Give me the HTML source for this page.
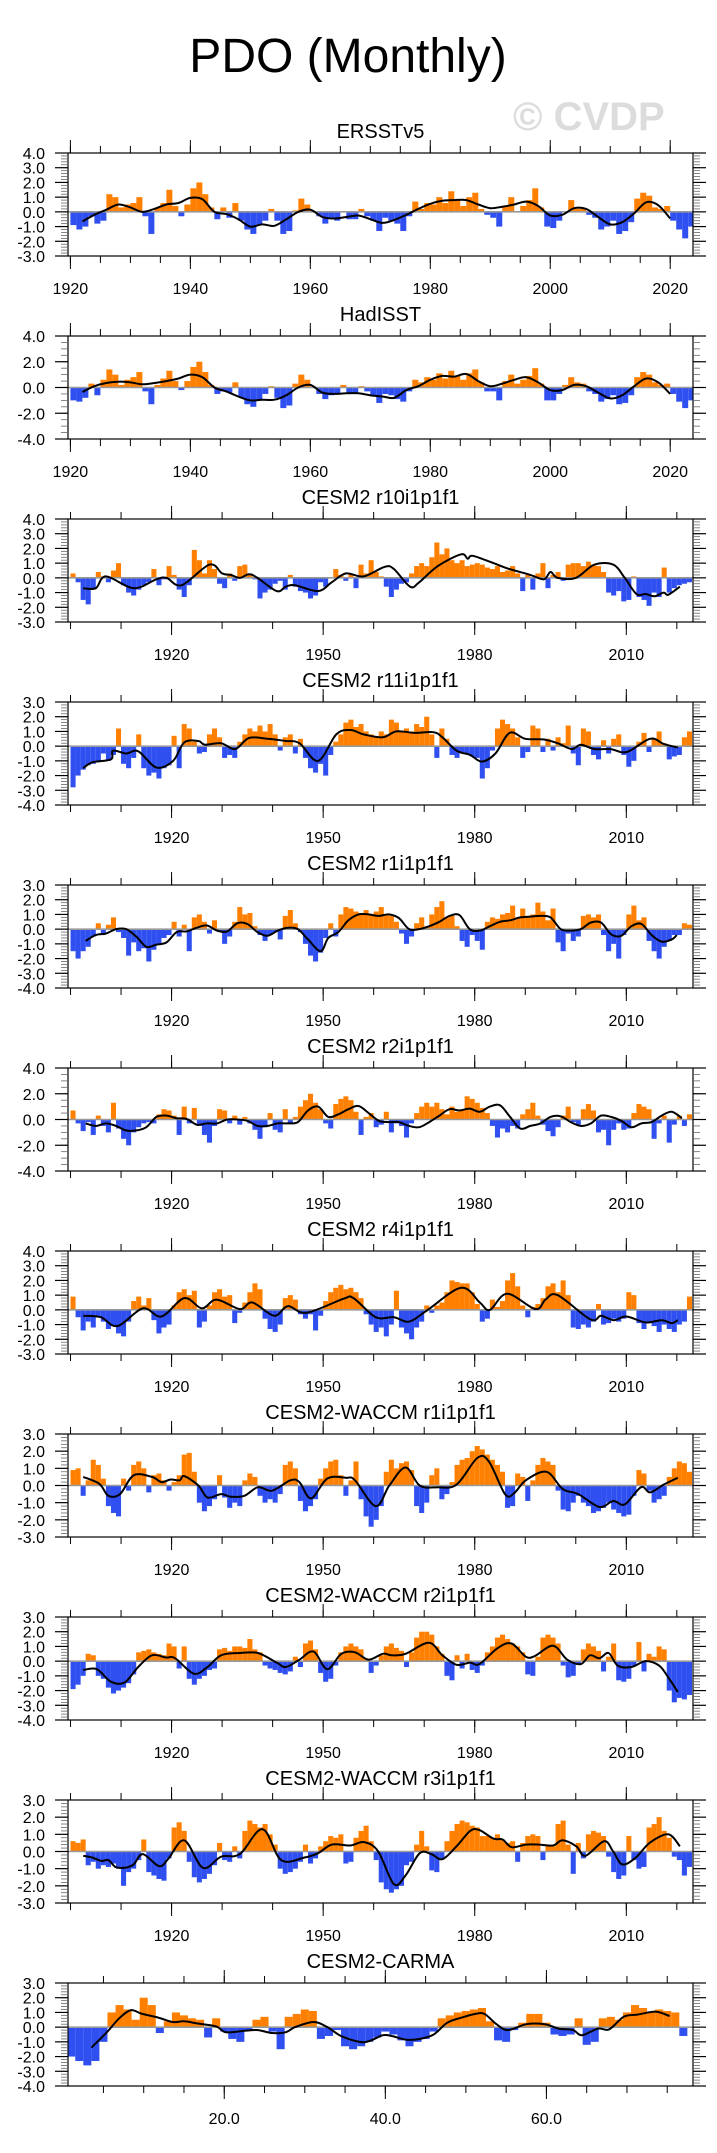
<!DOCTYPE html>
<html><head><meta charset="utf-8"><title>PDO (Monthly)</title>
<style>
html,body{margin:0;padding:0;background:#fff;}
svg{display:block;font-family:"Liberation Sans",Arial,sans-serif;}
</style></head>
<body>
<svg id="fig" width="717" height="2153" viewBox="0 0 717 2153" xmlns="http://www.w3.org/2000/svg">
<text x="348" y="72" font-size="48" text-anchor="middle" fill="#000">PDO (Monthly)</text>
<text x="513" y="130" font-size="40" font-weight="bold" fill="#dcdcdc">© CVDP</text>
</svg>
<script>
// ---------- data ----------
const ersstBars = [-0.9,-1.2,-1.0,-0.3,-0.8,-0.6,1.2,1.0,0.3,0.5, 0.6,1.0,-0.3,-1.5,0.3,0.6,1.5,0.4,-0.3,0.5, 1.6,2.0,1.2,0.3,-0.5,0.3,-0.4,0.6,-0.6,-1.2, -1.5,-0.9,-0.6,0.2,-0.6,-1.5,-1.3,0.1,0.9,0.5, 0.0,-0.3,-0.8,-0.5,-0.6,0.0,-0.5,-0.5,0.2,-0.3, -0.6,-1.3,-0.4,-0.6,-0.8,-1.3,-0.3,0.7,0.2,0.6, 0.5,1.0,0.6,1.4,0.8,0.4,1.0,1.3,0.2,-0.2, -0.4,-1.0,0.4,1.0,0.0,0.4,0.8,1.6,0.3,-1.0, -1.1,-0.6,0.0,0.8,0.2,0.2,-0.2,-0.4,-1.2,-1.0, -0.6,-1.5,-1.3,-0.7,0.9,1.3,1.1,0.3,0.2,0.4, -0.6,-1.2,-1.8,-1.0];
const obsSmoothX = [1922,1924,1926,1928,1930,1932,1934,1936,1938,1940,1942,1944,1946,1948,1950,1952,1954,1956,1958,1960,1962,1964,1966,1968,1970,1972,1974,1976,1978,1980,1982,1984,1986,1988,1990,1992,1994,1996,1998,2000,2002,2004,2006,2008,2010,2012,2014,2016,2018,2020];
const ersstSmoothY = [-0.65,-0.2,0.15,0.5,0.3,0.0,0.2,0.5,0.6,0.95,0.85,0.0,-0.15,-0.5,-1.0,-0.85,-0.95,-0.5,0.0,0.15,-0.35,-0.45,-0.35,-0.25,-0.5,-0.75,-0.55,-0.2,0.2,0.55,0.75,0.8,0.8,0.5,0.25,0.35,0.5,0.7,0.4,-0.25,-0.2,0.25,0.2,-0.35,-0.85,-0.7,-0.1,0.65,0.45,-0.45];

const hadBars = [-1.0,-1.1,-0.8,0.3,-0.6,0.6,1.4,1.0,0.2,0.6, 0.8,1.2,-0.3,-1.3,0.2,0.7,1.3,0.5,-0.2,0.5, 1.6,2.0,1.2,0.2,-0.5,-0.3,-0.4,0.4,-0.8,-1.3, -1.5,-1.0,-0.5,0.1,-0.8,-1.6,-1.4,0.3,1.0,0.6, 0.0,-0.5,-0.9,-0.6,-0.5,0.2,-0.4,-0.5,0.1,-0.3, -0.7,-1.2,-0.5,-0.6,-0.9,-1.1,-0.3,0.6,0.4,0.8, 0.6,1.1,0.7,1.3,0.9,0.6,1.1,1.4,0.4,-0.3, -0.3,-1.0,0.5,1.0,0.3,0.6,0.9,1.5,0.3,-1.0, -1.0,-0.5,0.2,0.8,0.4,0.3,-0.3,-0.5,-1.1,-0.9, -0.6,-1.3,-1.2,-0.6,0.8,1.2,1.0,0.4,0.2,0.3, -0.5,-1.1,-1.6,-1.0];
const hadSmoothY = [-0.35,0.1,0.35,0.45,0.4,0.25,0.35,0.5,0.7,1.0,0.8,0.0,-0.3,-0.7,-1.0,-0.95,-0.95,-0.6,0.0,0.2,-0.4,-0.5,-0.45,-0.45,-0.6,-0.7,-0.8,-0.2,0.1,0.6,0.9,0.85,1.05,0.5,0.1,0.3,0.6,0.8,0.4,-0.2,-0.2,0.2,0.1,-0.4,-0.85,-0.6,0.1,0.7,0.4,-0.5];

const r10Bars = [0.3,-0.3,-1.5,-1.8,-0.7,0.4,0.1,-0.3,0.5,1.0, -0.5,-1.0,-1.2,-0.8,-0.5,-0.3,0.6,-0.5,-0.1,0.8, 0.2,-0.8,-1.3,-0.5,1.9,1.2,0.3,1.2,0.6,-0.4, -0.7,0.3,-0.2,0.8,0.9,0.3,-0.1,-1.4,-1.0,-0.8, -0.4,-0.2,-0.8,0.2,-0.6,-0.9,-1.0,-1.4,-1.2,-0.3, -0.6,0.0,0.6,0.2,-0.2,0.3,-0.7,0.9,0.3,1.2, 0.4,0.1,-0.6,-1.3,-0.8,-0.4,-0.3,0.3,0.8,1.0, 0.8,1.4,2.4,1.6,2.0,1.2,1.0,1.2,0.8,0.9, 1.0,0.9,0.7,0.6,0.8,0.4,0.5,0.8,0.3,-0.9, 0.2,-0.8,0.3,1.0,-0.7,0.2,0.4,-0.2,0.9,1.0, 1.0,0.8,1.1,0.9,0.8,0.4,-1.0,-1.2,-0.9,-1.6, -1.5,0.1,-1.3,-1.5,-1.9,-1.0,-1.3,0.7,-1.0,-0.7, -0.5,-0.4,-0.3];
const r10SmoothX = [1902.5,1905,1907,1912.5,1917,1919,1922,1927.5,1930,1931.7,1933.5,1935.3,1937,1940.8,1942.6,1944.4,1949,1951.7,1954.5,1958,1962.2,1964,1967.2,1969,1972.7,1977.3,1978.6,1979.6,1983.7,1986.4,1991,1993.7,1995,1996.4,2000,2003.7,2007.4,2009.7,2012,2013.8,2015.6,2017.4,2018.3,2020.6];
const r10SmoothY = [-0.7,-0.7,0.1,-0.7,-0.1,0.0,-0.5,0.9,0.3,0.2,0.0,0.25,0.0,-0.9,-0.6,-0.5,-0.9,-0.3,0.3,0.1,0.75,0.6,-0.6,-0.3,0.8,1.6,1.3,1.5,1.0,0.65,0.2,-0.1,0.4,0.0,0.0,0.9,0.9,0.0,-1.1,-1.1,-1.25,-1.0,-1.15,-0.6];

const r11Bars = [-2.8,-2.0,-1.6,-1.3,-1.2,-1.0,-0.5,-1.0,-0.6,1.2, -1.2,-1.5,-0.8,0.8,-1.5,-2.0,-1.8,-2.2,-1.5,-1.3, 0.7,-1.5,1.5,1.2,0.3,-0.5,-0.4,0.8,1.2,0.6, -0.8,-0.6,-0.8,0.3,0.8,1.2,1.0,1.4,1.0,1.5, 0.8,-0.3,0.6,0.8,-0.5,0.5,-0.8,-1.5,-1.8,-1.2, -2.0,-0.6,0.3,0.8,1.6,1.8,1.3,1.5,1.0,0.8, 0.6,1.0,0.8,1.8,1.6,1.0,1.2,1.0,1.5,1.3, 2.0,0.8,-0.8,1.2,0.5,-0.6,-0.8,-0.4,-0.5,-0.7, -0.8,-2.2,-1.5,-0.3,1.2,1.8,1.5,1.2,0.6,-0.8, -0.4,1.4,1.2,-0.4,0.5,-0.3,0.6,0.2,1.4,-0.5, -1.3,1.2,1.0,-0.6,-0.9,0.4,-0.5,0.5,0.8,-0.6, -1.4,-1.0,0.3,0.9,-0.4,0.5,1.0,0.2,-0.9,-0.7, -0.6,0.6,1.0];
const r11SmoothX = [1902.5,1904.3,1908,1908.4,1911,1913.4,1917,1920.3,1922.5,1925.3,1926.6,1929.8,1932.6,1935.3,1939,1942.6,1945.3,1949,1952.6,1955.4,1958,1961.8,1964.5,1968.2,1971.8,1973.6,1976.4,1979.1,1981.4,1984.1,1986.9,1990,1993.7,1996.4,1999.2,2001,2003.7,2006.9,2010.1,2014.7,2017.4,2020.2];
const r11SmoothY = [-1.5,-1.1,-0.9,-0.3,-0.5,-0.35,-1.45,-1.0,0.25,0.35,0.1,0.2,-0.2,0.55,0.5,0.35,0.2,-1.0,0.8,1.1,0.8,0.6,1.0,0.9,0.95,0.6,-0.3,-0.6,-1.05,-0.5,0.9,0.5,0.45,0.2,-0.2,0.1,-0.2,-0.2,-0.4,0.5,0.15,-0.1];

const r1Bars = [-1.5,-2.0,-1.5,-1.2,-0.5,0.4,-0.3,0.3,0.8,-0.2, -0.6,-1.8,-0.9,-1.5,-1.3,-2.2,-1.4,-1.0,-0.6,-0.4, 0.5,-0.5,0.3,-1.5,0.8,1.0,0.5,-0.3,0.6,-0.2, -1.0,-0.5,0.5,1.5,1.0,1.1,0.2,-0.4,-0.8,-0.4, -0.2,-0.7,0.9,1.3,0.4,-0.2,-1.0,-1.8,-2.2,-1.6, -0.6,0.4,-0.5,1.0,1.5,1.4,1.2,1.1,1.3,1.0, 1.2,1.5,1.0,0.9,0.5,-0.3,-1.0,-0.5,0.4,0.8, 0.2,1.0,1.5,1.9,0.8,0.9,0.2,-0.8,-1.2,-0.4, -0.8,-1.4,0.5,0.8,0.7,1.0,1.1,1.6,0.8,1.4, 0.9,1.0,1.8,1.2,0.6,1.4,-0.9,-1.5,-0.3,-0.8, -0.5,0.9,1.0,0.8,1.0,-0.4,-1.5,-1.0,-2.0,-0.4, 1.0,1.6,0.6,0.8,-0.8,-1.5,-2.0,-1.2,-0.8,-0.4, -0.4,0.4,0.3];
const r1SmoothX = [1903,1905,1907,1909,1911,1913,1915,1917,1919,1921,1923,1925,1927,1929,1931,1933,1935,1937,1939,1941,1943,1945,1947,1949.5,1951,1953,1955,1957,1959,1961,1963,1965,1967,1969,1971,1973,1975,1977,1979,1981,1983,1985,1987,1989,1991,1993,1995,1997,1999,2001,2003,2005,2007,2009,2011,2013,2015,2017,2019,2020];
const r1SmoothY = [-0.8,-0.4,-0.3,0.0,0.0,-0.5,-1.2,-1.05,-0.9,-0.2,-0.15,0.1,0.25,-0.1,-0.15,0.4,0.35,-0.2,-0.45,-0.1,0.1,0.0,-0.7,-1.5,-0.6,-0.2,0.6,1.0,1.0,0.9,1.0,0.75,0.0,0.0,0.2,0.5,0.9,0.95,0.0,-0.1,0.2,0.5,0.6,0.8,0.85,0.9,0.8,0.0,-0.1,0.0,0.45,0.45,-0.35,-0.45,0.2,0.35,-0.4,-0.85,-0.7,-0.4];

const r2Bars = [0.7,-0.3,-0.9,-0.2,-1.2,0.3,-0.5,-1.0,1.3,-0.7, -1.5,-2.0,-1.0,-0.6,-0.3,-0.2,-0.3,0.4,0.8,0.7, 0.3,-1.2,1.0,-0.3,0.9,-0.5,-1.2,-1.8,-0.5,0.8, 0.7,-0.3,0.3,-0.4,0.2,-0.3,-0.8,-1.5,-0.6,0.5, -0.8,-1.0,0.8,-0.3,0.2,1.0,1.5,2.0,1.3,0.8, -0.3,-0.7,1.2,1.6,1.8,1.5,0.6,-1.2,0.2,0.5, -0.6,-0.4,0.6,-1.0,-0.3,-0.5,-1.4,-0.3,0.5,1.0, 1.3,1.0,1.3,0.8,0.4,1.0,0.6,0.8,1.8,1.6, 1.3,0.9,0.5,-0.5,-1.4,-0.7,-1.0,-0.5,-0.7,0.4, 0.8,1.3,0.3,-0.4,-0.9,-1.3,-0.6,0.3,1.0,-0.2, -0.4,0.8,1.2,0.7,-1.0,-0.8,-2.0,-0.8,-0.3,-0.8, -0.7,0.5,1.2,1.0,0.8,-1.5,-0.3,0.3,-1.8,-0.4, 0.3,-0.5,0.4];
const r2SmoothX = [1903,1905,1907,1909,1911,1913,1915,1917,1919,1921,1923,1925,1927,1929,1931,1933,1935,1937,1939,1941,1943,1945,1947,1949,1951,1953,1955,1957,1959,1961,1963,1965,1967,1969,1971,1973,1975,1977,1979,1981,1983,1985,1987,1989,1991,1993,1995,1997,1999,2001,2003,2005,2007,2009,2011,2013,2015,2017,2019,2021];
const r2SmoothY = [-0.3,-0.5,-0.3,-0.5,-0.85,-0.85,-0.6,0.2,0.3,0.1,0.05,-0.4,-0.3,-0.3,0.0,0.0,-0.1,-0.5,-0.5,-0.3,-0.3,-0.2,0.7,1.0,0.2,0.4,0.8,1.05,0.5,-0.1,-0.2,-0.2,-0.5,-0.6,-0.2,0.3,0.8,0.7,0.85,0.6,1.0,1.1,0.2,-0.7,-0.5,-0.3,0.2,0.25,-0.2,-0.5,-0.3,0.3,0.2,-0.1,-0.6,-0.3,-0.2,0.3,0.6,0.1];

const r4Bars = [0.9,-0.5,-1.4,-0.8,-1.2,-0.5,-0.8,-1.3,-1.1,-1.6, -1.8,-0.8,0.6,0.9,0.3,0.8,-0.7,-1.6,-1.2,-1.0, 0.3,1.2,1.4,1.0,1.3,-1.2,-0.8,0.3,1.2,1.4, 0.9,1.0,-0.9,-0.2,0.5,1.2,1.8,1.4,-0.6,-1.3, -1.5,-1.0,0.8,1.0,0.7,-0.3,-0.6,-0.3,-1.4,-0.4, 0.6,1.2,1.5,1.7,1.4,1.5,1.2,0.8,-0.3,-1.0, -1.5,-1.2,-1.8,-1.0,1.3,-1.2,-1.6,-2.0,-1.2,-0.8, 0.3,-0.2,0.3,0.5,1.2,2.0,1.9,1.8,1.8,1.2, 0.4,-0.8,-0.6,0.7,0.2,0.6,2.0,2.5,1.6,0.3, -0.5,0.2,0.4,0.8,1.6,1.8,1.2,2.0,1.0,-1.2, -1.3,-1.0,-1.2,-0.8,0.4,-1.0,-0.9,-0.6,-0.8,-0.6, 1.2,1.0,-0.9,-1.3,-0.8,-1.1,-1.5,-1.0,-1.3,-1.5, -1.0,-0.8,0.9];
const r4SmoothX = [1902.5,1906,1909.3,1914.3,1918,1922.5,1926,1928.9,1933.5,1936,1940.3,1943,1946.7,1954,1956,1960.4,1964,1967,1970.5,1977.3,1981,1983,1986.4,1992,1994,1996.4,2002.9,2005,2007.5,2010,2013.8,2017,2019,2020.2];
const r4SmoothY = [-0.4,-0.5,-1.1,0.1,-0.45,0.8,0.1,0.7,0.05,0.5,-0.4,0.25,-0.2,0.75,0.8,-0.5,-0.5,-0.8,-0.05,1.5,0.5,0.0,1.1,0.05,0.7,1.0,-0.65,-0.4,-0.7,-0.45,-0.85,-0.7,-0.9,-0.7];

const w1Bars = [0.9,1.0,-0.6,0.3,1.5,1.2,0.4,-1.2,-1.6,-1.8, 0.4,-0.3,1.2,1.4,1.0,-0.4,0.6,0.7,0.3,-0.3, 0.2,0.6,1.8,1.9,0.8,-1.0,-1.5,-1.2,-0.8,0.6, -0.7,-1.3,-1.0,-1.2,0.3,0.7,0.5,-0.6,-1.0,-0.8, -1.0,-0.5,1.2,1.4,1.0,-0.9,-1.5,-1.2,-0.8,0.4, 1.0,1.4,1.5,0.6,-0.6,0.3,1.4,-0.8,-1.8,-2.4, -2.0,-1.2,0.8,1.5,1.0,1.3,1.4,0.9,-1.2,-1.6, -1.0,0.6,1.0,-0.8,-0.5,0.2,1.2,1.5,1.6,2.0, 2.3,2.1,1.8,1.5,1.2,0.8,-1.3,-1.2,0.7,0.5, -0.9,0.3,1.2,1.6,1.4,1.2,-0.3,-1.4,-1.5,-1.0, -0.6,-1.0,-1.2,-1.6,-1.5,-1.3,-1.0,-1.4,-1.6,-1.8, -1.7,-0.6,0.9,0.7,-0.3,-1.0,-0.8,-0.6,0.5,1.0, 1.4,1.3,0.8];
const w1SmoothX = [1902.5,1905.7,1907.5,1909.8,1912.5,1916.1,1918,1919.8,1921.6,1922.5,1925.3,1927.1,1929.8,1931.7,1934.4,1937.1,1939.9,1943.5,1945.3,1947.6,1950.8,1954.5,1956.3,1960.4,1963.1,1966.3,1969.1,1972.7,1976.4,1980.5,1982.8,1986,1987.8,1990.1,1994.2,1997.4,2000.5,2004.7,2007.4,2009.7,2012.9,2014.7,2017.4,2020.2];
const w1SmoothY = [0.5,0.1,-0.6,-0.5,0.6,0.5,0.2,0.35,0.3,0.55,0.0,-0.7,-0.5,-0.65,-0.6,-0.1,-0.3,0.3,0.2,-0.75,0.4,0.45,0.3,-1.2,0.0,1.05,0.0,-0.1,0.05,1.6,1.4,-0.5,-0.45,0.3,0.8,-0.2,-0.5,-1.25,-0.9,-1.1,-0.1,-0.4,0.05,0.45];

const w2Bars = [-1.9,-1.6,-1.0,0.5,0.4,-1.0,-1.2,-1.8,-2.2,-2.0, -1.8,-1.5,-0.9,0.6,0.7,0.8,0.6,0.5,0.4,1.2, 1.0,-0.5,1.0,-1.2,-1.6,-1.2,-1.0,-0.6,-0.5,0.8, 0.9,0.7,1.0,1.0,0.9,1.5,0.8,0.6,-0.3,-0.5, -0.6,-0.8,-0.9,-0.7,0.3,-0.4,1.2,1.4,0.8,-0.8, -1.4,-1.2,-0.3,0.6,1.0,1.2,1.0,0.8,0.2,-0.8, -0.3,0.4,1.0,1.2,0.9,0.7,-0.4,0.6,1.6,2.0, 2.0,1.8,1.0,0.5,-1.0,-1.3,0.4,-0.5,0.5,-0.6, -0.8,-0.3,0.6,1.0,1.6,1.8,1.5,1.2,1.0,0.6, -0.9,-1.0,0.3,1.6,1.8,1.6,1.2,-0.3,-1.1,-1.0, -0.2,0.8,1.2,1.0,0.7,-0.7,0.3,1.2,-1.3,-1.4, -1.2,-0.3,1.3,-0.7,0.5,0.3,1.0,0.8,-2.0,-2.8, -2.5,-2.6,-2.3];
const w2SmoothX = [1902.5,1905.2,1908,1910.7,1913.4,1916.1,1918.9,1920.7,1924.4,1927.1,1929.8,1933.5,1937.1,1940.8,1942.6,1945.3,1948.1,1950.8,1953.6,1956.3,1959,1961.8,1963.6,1966.3,1970.9,1973.6,1976.4,1979.1,1980.9,1984.6,1987.3,1990.1,1991.9,1995.5,1998.3,2001,2002.8,2004.7,2006.5,2008.3,2011,2013.8,2016.5,2018.3,2020.2];
const w2SmoothY = [-0.6,-0.55,-1.4,-1.45,-0.4,0.4,0.25,0.2,-0.85,-0.4,0.4,0.55,0.55,-0.1,-0.4,0.1,0.65,-0.55,0.5,0.6,0.1,0.5,0.4,0.5,1.25,0.4,-0.25,-0.1,-0.2,0.9,1.2,0.3,0.35,1.05,0.1,-0.2,0.4,0.2,0.55,-0.3,-0.4,0.0,-0.3,-1.1,-2.1];

const w3Bars = [0.6,0.5,0.7,-0.8,-0.6,-1.0,-0.8,-0.9,-0.7,-1.0, -2.0,-1.2,-1.0,-0.5,0.7,-1.2,-1.4,-1.6,-1.7,-0.4, 1.4,1.7,1.2,-0.6,-1.5,-1.8,-1.6,-1.3,-0.8,0.5, -0.5,-0.6,0.3,-0.4,1.2,1.8,1.6,1.4,1.6,1.0, 0.4,-1.0,-1.3,-1.2,-1.0,-0.6,0.4,-0.7,-0.4,0.3, 0.6,0.9,0.8,1.0,-0.7,-0.6,0.8,1.2,1.5,0.6, -0.5,-1.8,-2.2,-2.4,-2.2,-2.0,-0.8,-0.6,0.4,1.2, 0.3,-1.1,-1.2,-0.4,0.6,1.2,1.6,1.8,1.7,1.5, 1.4,0.9,0.9,0.8,1.0,0.7,0.5,0.6,-0.6,0.5, 0.9,1.0,0.9,-0.5,0.4,0.3,1.6,1.8,0.4,-1.3, 0.5,-0.4,1.0,1.2,1.1,0.9,-0.3,-1.2,-1.6,-1.4, 0.9,-0.5,-1.0,-0.9,1.4,1.6,2.0,1.2,0.8,-0.3, -0.5,-1.4,-0.9];
const w3SmoothX = [1902.5,1904.3,1906.1,1907.5,1908.9,1910.7,1912.5,1914.3,1917.5,1919.3,1922.5,1926.2,1929.8,1933.5,1938,1941.7,1946.3,1949,1951.7,1955.4,1958.1,1960.9,1964,1966.3,1969.1,1971.4,1973.6,1976.4,1979.1,1980.9,1983.7,1985.5,1987.3,1990.1,1992.8,1995.5,1997.4,2000.1,2001.9,2005.6,2007.4,2009.2,2011.9,2014.6,2018.3,2020.6];
const w3SmoothY = [-0.25,-0.35,-0.55,-0.5,-0.9,-0.95,-0.75,-0.15,-0.85,-0.45,0.65,-0.95,-0.3,-0.15,1.3,-0.5,-0.35,-0.1,0.4,0.35,0.55,0.0,-1.9,-1.4,-0.1,-0.15,-0.45,0.3,1.2,1.25,0.75,0.7,0.25,0.4,0.4,0.35,0.65,0.3,-0.25,0.6,0.0,-0.75,-0.35,0.5,1.0,0.3];

const carmaBars = [-2.0,-2.3,-2.6,-2.3,-1.0,1.0,1.5,1.2,0.5,2.0, 1.5,-0.4,0.4,1.0,0.8,0.6,0.5,-0.7,0.6,-0.3, -0.8,-1.0,-0.2,0.5,0.7,-0.3,-1.5,0.7,0.9,1.2, 1.1,-0.8,-0.6,-0.2,-1.3,-1.5,-1.3,-1.0,-0.7,-0.3, -0.5,-0.9,-1.3,-1.0,-0.8,-0.3,0.6,0.8,1.0,1.1, 1.2,1.3,0.4,-0.9,-1.0,-0.2,0.3,0.9,0.9,0.3, -0.5,-0.6,-0.5,0.6,-1.2,-1.0,0.6,0.7,0.5,1.0, 1.5,1.3,1.0,1.2,1.1,1.0,-0.6];
const carmaSmoothX = [3.5,5.5,6.96,8.4,9.8,11.8,13.6,15,16.7,19,20.2,22.5,24.2,25.9,27.6,28.8,31.1,32.8,34.5,36.8,38,39.7,40.8,42.6,44.3,46,47.7,49.5,51.2,52.3,53.8,55.2,57.5,59.8,61.5,63.3,64.4,66.4,67.8,69.6,71.3,73.6,75.3];
const carmaSmoothY = [-1.4,-0.3,0.6,1.15,0.9,0.65,0.35,0.4,0.25,0.05,-0.35,-0.25,-0.2,-0.4,-0.35,0.0,0.35,0.0,-0.6,-1.0,-0.95,-0.55,-0.6,-0.85,-0.8,-0.5,0.3,0.65,0.9,0.9,0.2,-0.2,0.2,0.2,-0.1,-0.2,-0.55,-0.1,-0.15,0.7,0.85,1.05,0.75];

// ---------- rendering ----------
const NS = "http://www.w3.org/2000/svg";
const svg = document.getElementById("fig");
const L = 68, R = 693, PH = 103;
const ORANGE = "#ff8000", BLUE = "#2f4ff0";
function mk(tag, attrs, parent){ const e = document.createElementNS(NS, tag); for (const k in attrs) e.setAttribute(k, attrs[k]); (parent||svg).appendChild(e); return e; }

const OBS = {xmin:1919.6, xmax:2023.8, xMajStart:1920, xMajStep:20, xMinStep:5, xMinStart:1920, fmt:v=>String(v), off:0};
const CES = {xmin:1899.5, xmax:2023.2, xMajStart:1920, xMajStep:30, xMinStep:10, xMinStart:1900, fmt:v=>String(v), off:0};
const CAR = {xmin:0.6, xmax:78.2, xMajStart:20, xMajStep:20, xMinStep:5, xMinStart:5, fmt:v=>v.toFixed(1), off:-0.5};

const panels = [
 {name:"ersstv5", title:"ERSSTv5", ax:OBS, bars:ersstBars, start:1920, sx:obsSmoothX, sy:ersstSmoothY, ymin:-3, ymax:4, ystep:1, yminor:0.2},
 {name:"hadisst", title:"HadISST", ax:OBS, bars:hadBars, start:1920, sx:obsSmoothX, sy:hadSmoothY, ymin:-4, ymax:4, ystep:2, yminor:0.5},
 {name:"cesm2-r10", title:"CESM2 r10i1p1f1", ax:CES, bars:r10Bars, start:1900, sx:r10SmoothX, sy:r10SmoothY, ymin:-3, ymax:4, ystep:1, yminor:0.2},
 {name:"cesm2-r11", title:"CESM2 r11i1p1f1", ax:CES, bars:r11Bars, start:1900, sx:r11SmoothX, sy:r11SmoothY, ymin:-4, ymax:3, ystep:1, yminor:0.2},
 {name:"cesm2-r1", title:"CESM2 r1i1p1f1", ax:CES, bars:r1Bars, start:1900, sx:r1SmoothX, sy:r1SmoothY, ymin:-4, ymax:3, ystep:1, yminor:0.2},
 {name:"cesm2-r2", title:"CESM2 r2i1p1f1", ax:CES, bars:r2Bars, start:1900, sx:r2SmoothX, sy:r2SmoothY, ymin:-4, ymax:4, ystep:2, yminor:0.5},
 {name:"cesm2-r4", title:"CESM2 r4i1p1f1", ax:CES, bars:r4Bars, start:1900, sx:r4SmoothX, sy:r4SmoothY, ymin:-3, ymax:4, ystep:1, yminor:0.2},
 {name:"waccm-r1", title:"CESM2-WACCM r1i1p1f1", ax:CES, bars:w1Bars, start:1900, sx:w1SmoothX, sy:w1SmoothY, ymin:-3, ymax:3, ystep:1, yminor:0.2},
 {name:"waccm-r2", title:"CESM2-WACCM r2i1p1f1", ax:CES, bars:w2Bars, start:1900, sx:w2SmoothX, sy:w2SmoothY, ymin:-4, ymax:3, ystep:1, yminor:0.2},
 {name:"waccm-r3", title:"CESM2-WACCM r3i1p1f1", ax:CES, bars:w3Bars, start:1900, sx:w3SmoothX, sy:w3SmoothY, ymin:-3, ymax:3, ystep:1, yminor:0.2},
 {name:"carma", title:"CESM2-CARMA", ax:CAR, bars:carmaBars, start:1, sx:carmaSmoothX, sy:carmaSmoothY, ymin:-4, ymax:3, ystep:1, yminor:0.2}
];

function smoothPath(pts){
  let d = "M" + pts[0][0].toFixed(1) + "," + pts[0][1].toFixed(1);
  for (let i = 0; i < pts.length - 1; i++){
    const p0 = pts[Math.max(0,i-1)], p1 = pts[i], p2 = pts[i+1], p3 = pts[Math.min(pts.length-1,i+2)];
    const c1x = p1[0] + (p2[0]-p0[0])/6, c1y = p1[1] + (p2[1]-p0[1])/6;
    const c2x = p2[0] - (p3[0]-p1[0])/6, c2y = p2[1] - (p3[1]-p1[1])/6;
    d += " C" + c1x.toFixed(1)+","+c1y.toFixed(1)+" "+c2x.toFixed(1)+","+c2y.toFixed(1)+" "+p2[0].toFixed(1)+","+p2[1].toFixed(1);
  }
  return d;
}

panels.forEach((p, k) => {
  const T = 153 + 183*k, B = T + PH;
  const ax = p.ax;
  const x = v => L + (v - ax.xmin) / (ax.xmax - ax.xmin) * (R - L);
  const y = v => B - (v - p.ymin) / (p.ymax - p.ymin) * PH;
  const g = mk("g", {});
  
  

  const t = mk("text", {x:(L+R)/2, y:T-15, "font-size":20, "text-anchor":"middle", fill:"#000"}, g);
  t.textContent = p.title;
  
  

  const bg = mk("g", {}, g);
  
  
  p.bars.forEach((v, i) => {
    const t0 = p.start + i + ax.off, t1 = t0 + 1;
    const x0 = Math.max(L, x(t0)), x1 = Math.min(R, x(t1));
    const y0 = y(0), yv = y(v);
    const r = mk("rect", {x:x0.toFixed(2), y:Math.min(y0,yv).toFixed(2), width:Math.max(0,x1-x0).toFixed(2), height:Math.abs(yv-y0).toFixed(2), fill: v >= 0 ? ORANGE : BLUE}, bg);
    
    
  });

  const z = mk("line", {x1:L, x2:R, y1:y(0), y2:y(0), stroke:"#999", "stroke-width":1.6}, g);
  
  

  const pts = p.sx.map((sx, i) => [x(sx), y(p.sy[i])]);
  const ln = mk("path", {d:smoothPath(pts), fill:"none", stroke:"#000", "stroke-width":2}, g);
  
  

  const box = mk("rect", {x:L, y:T, width:R-L, height:PH, fill:"none", stroke:"#000", "stroke-width":1.2}, g);
  
  

  const tg = mk("g", {stroke:"#000", "stroke-width":1}, g);
  
  
  for (let v = ax.xMinStart; v <= ax.xmax; v += ax.xMinStep){
    const xx = x(v); if (xx < L-0.5 || xx > R+0.5) continue;
    mk("line", {x1:xx, x2:xx, y1:T-7, y2:T}, tg);
    mk("line", {x1:xx, x2:xx, y1:B, y2:B+7}, tg);
  }
  for (let v = ax.xMajStart; v <= ax.xmax; v += ax.xMajStep){
    const xx = x(v);
    mk("line", {x1:xx, x2:xx, y1:T-13, y2:T}, tg);
    mk("line", {x1:xx, x2:xx, y1:B, y2:B+13}, tg);
    const lb = mk("text", {x:xx, y:B+38, "font-size":16, "text-anchor":"middle", fill:"#000", stroke:"none"}, g);
    lb.textContent = ax.fmt(v);
    
    
  }

  const yg = mk("g", {stroke:"#000", "stroke-width":0.8}, g);
  
  
  const nMin = Math.round((p.ymax - p.ymin)/p.yminor);
  for (let i = 0; i <= nMin; i++){
    const yy = y(p.ymin + i*p.yminor);
    mk("line", {x1:L-7, x2:L, y1:yy, y2:yy, stroke:"#666"}, yg);
    mk("line", {x1:R, x2:R+7, y1:yy, y2:yy, stroke:"#666"}, yg);
  }
  const nMaj = Math.round((p.ymax - p.ymin)/p.ystep);
  for (let i = 0; i <= nMaj; i++){
    const v = p.ymin + i*p.ystep, yy = y(v);
    mk("line", {x1:L-13, x2:L, y1:yy, y2:yy, "stroke-width":1.2}, yg);
    mk("line", {x1:R, x2:R+13, y1:yy, y2:yy, "stroke-width":1.2}, yg);
    const lb = mk("text", {x:45, y:yy+6, "font-size":16, "text-anchor":"end", fill:"#000", stroke:"none"}, g);
    lb.textContent = v.toFixed(1);
    
    
  }
});
</script>
</body></html>
